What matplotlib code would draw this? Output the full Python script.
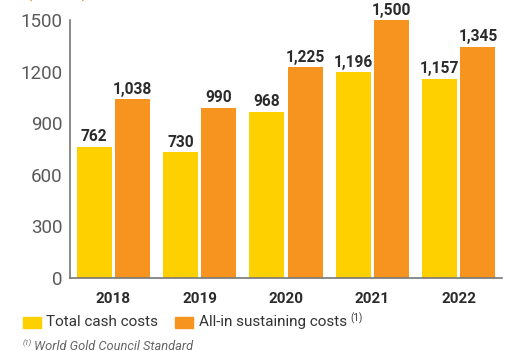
import matplotlib
matplotlib.use("Agg")
import matplotlib.pyplot as plt
import numpy as np

years = ["2018", "2019", "2020", "2021", "2022"]
total_cash = [762, 730, 968, 1196, 1157]
aisc = [1038, 990, 1225, 1500, 1345]
yticks = [0, 300, 600, 900, 1200, 1500]

yellow = "#FFD000"
orange = "#F7941F"

fig = plt.figure(figsize=(5.24, 3.51), dpi=100)
ax = fig.add_axes([70 / 524, 73 / 351, 432 / 524, 258 / 351])

x = np.arange(len(years))
w = 0.405
off = 0.222
b1 = ax.bar(x - off, total_cash, w, color=yellow, zorder=2)
b2 = ax.bar(x + off, aisc, w, color=orange, zorder=2)

for bars, vals in ((b1, total_cash), (b2, aisc)):
    for r, v in zip(bars, vals):
        ax.annotate(f"{v:,}", (r.get_x() + r.get_width() / 2, v),
                    xytext=(0, 5.5), textcoords="offset pixels",
                    ha="center", va="baseline", fontsize=11.2,
                    fontweight="bold", family="Roboto", color="#2b2b2b",
                    annotation_clip=False)

ax.set_xlim(-0.5, 4.5)
ax.set_ylim(0, 1500)
ax.set_yticks(yticks)
ax.set_yticklabels([str(t) for t in yticks], family="Roboto", fontsize=13.5,
                   color="#5a5a5a")
ax.set_xticks(x)
ax.set_xticklabels(years, family="Roboto", fontweight="bold", fontsize=11,
                   color="#2b2b2b")
ax.tick_params(axis="y", length=0, pad=5.5)
ax.tick_params(axis="x", length=0, pad=10)
for s in ("top", "right"):
    ax.spines[s].set_visible(False)
for s in ("left", "bottom"):
    ax.spines[s].set_color("#777777")
    ax.spines[s].set_linewidth(1.2)

# Unit caption at the top edge
fig.text(26 / 524, 1 + 2 / 351, "(US$/oz)", color=orange, fontsize=11,
         fontweight="bold", family="Roboto", va="baseline", ha="left")

# Legend
ly = 1 - 322 / 351
fig.patches.append(plt.Rectangle((23 / 524, 1 - 328 / 351), 18 / 524, 11 / 351,
                                 transform=fig.transFigure, color=yellow))
fig.text(46 / 524, ly, "Total cash costs", family="Roboto", fontsize=11,
         color="#333333", va="center", ha="left")
fig.patches.append(plt.Rectangle((175 / 524, 1 - 328 / 351), 18 / 524, 11 / 351,
                                 transform=fig.transFigure, color=orange))
t2 = fig.text(199 / 524, ly, "All-in sustaining costs", family="Roboto",
              fontsize=11, color="#333333", va="center", ha="left")
fig.canvas.draw()
ext = t2.get_window_extent(fig.canvas.get_renderer())
fig.text((ext.x1 + 3) / 524, 1 - 318 / 351, "(1)", family="Roboto",
         fontsize=7, color="#333333", va="center", ha="left")

# Footnote
fig.text(23 / 524, 1 - 343 / 351, "(1)", family="Roboto", fontsize=5.5,
         color="#666666", style="italic", va="center", ha="left")
fig.text(34 / 524, 1 - 346 / 351, "World Gold Council Standard", family="Roboto",
         fontsize=9.3, color="#666666", style="italic", va="center", ha="left")

fig.savefig("out.png", dpi=100)
